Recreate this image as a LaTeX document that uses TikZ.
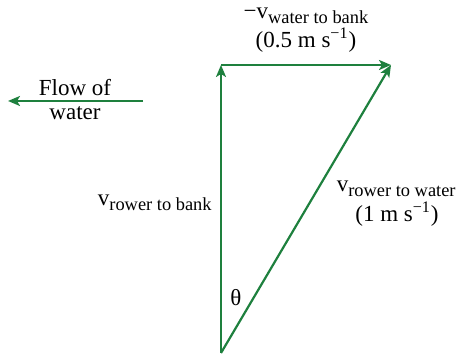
\documentclass[tikz,border=0pt]{standalone}
\usepackage{fontspec}
\usetikzlibrary{arrows.meta}
\setmainfont{Liberation Serif}
\newcommand{\vsub}[1]{\raisebox{-0.45ex}{\fontsize{9.2}{10}\selectfont #1}}
\begin{document}
\begin{tikzpicture}[x=0.5pt, y=0.5pt, >={Stealth[length=6pt,width=5pt,inset=1.5pt]}, font=\fontsize{11.5}{13}\selectfont]
	
	% ==========================================
	% 1. COLOURS AND STYLES
	% ==========================================
	\definecolor{vecgreen}{RGB}{30, 128, 62}   % green of the vectors
	\tikzset{
		vec/.style={->, line width=1.1pt, draw=vecgreen},
		lbl/.style={inner sep=1pt}
	}
	
	% ==========================================
	% 2. FRAME
	% ==========================================
	\useasboundingbox (0,0) rectangle (459,356);
	
	% ==========================================
	% 3. CORNERS OF THE TRIANGLE
	% ==========================================
	\coordinate (bottom) at (221,3);
	\coordinate (topleft) at (221,291);
	\coordinate (topright) at (391,291);
	
	% ==========================================
	% 4. VECTORS
	% ==========================================
	\draw[vec] (bottom) -- (topleft);      % rower to bank
	\draw[vec] (topleft) -- (topright);    % minus water to bank
	\draw[vec] (bottom) -- (topright);     % rower to water
	
	% Flow of water
	\coordinate (flowstart) at (143,255);
	\coordinate (flowend) at (8,255);
	\draw[vec] (flowstart) -- (flowend);
	
	% ==========================================
	% 5. LABELS
	% ==========================================
	\node[lbl] (flowtop) at (75,268) {Flow of};
	\node[lbl] (flowbot) at (75,243) {water};
	
	\node[lbl] (waterlbl) at (306,340) {−v\vsub{water to bank}};
	\node[lbl] (waterval) at (306,316) {(0.5 m s\textsuperscript{−1})};
	
	\node[lbl, anchor=east] (banklbl) at (214,153) {v\vsub{rower to bank}};
	
	\node[lbl, anchor=east] (rowerlbl) at (458,167) {v\vsub{rower to water}};
	\node[lbl] (rowerval) at (397,142) {(1 m s\textsuperscript{−1})};
	
	\node[lbl] (theta) at (236,58) {θ};
	
\end{tikzpicture}
\end{document}
